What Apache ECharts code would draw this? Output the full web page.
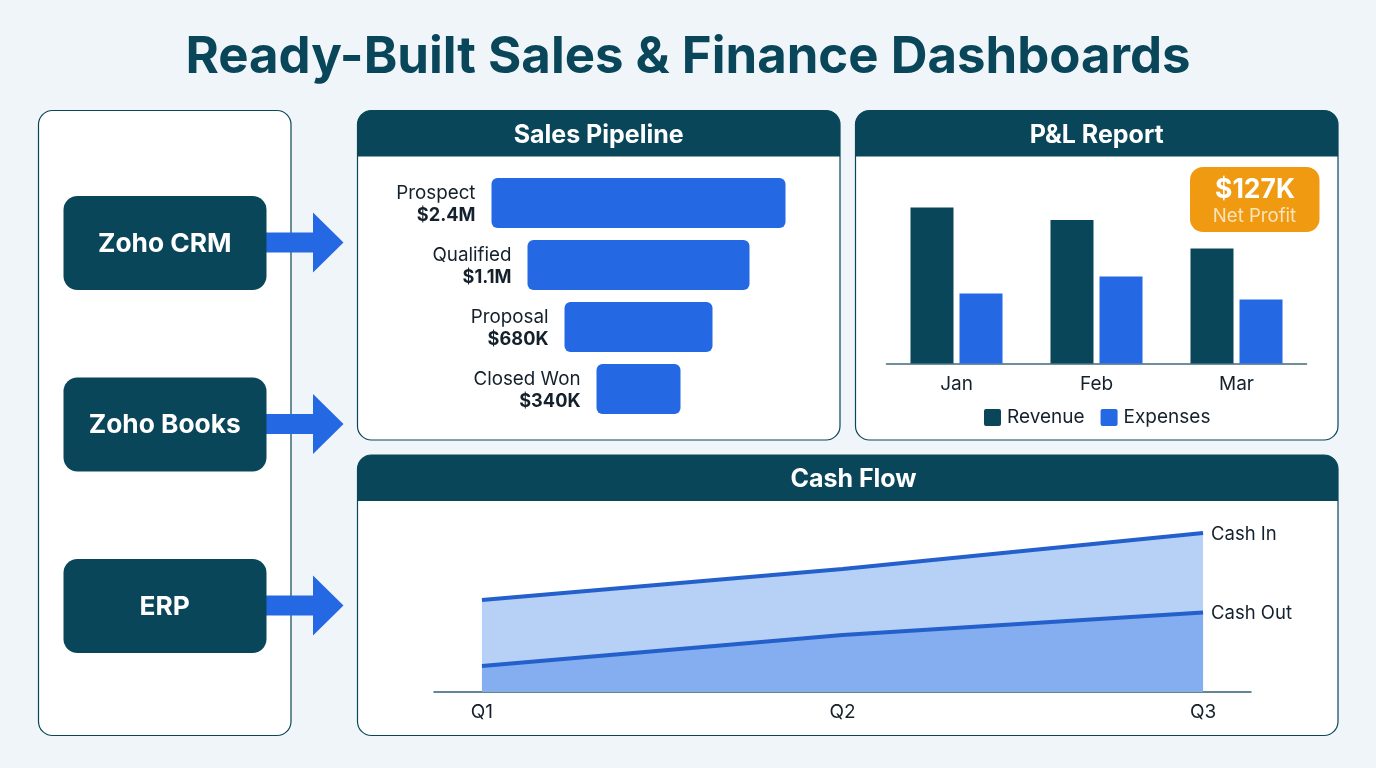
<!DOCTYPE html>
<html><head><meta charset="utf-8">
<style>html,body{margin:0;padding:0;background:#f0f5fa}#c{width:1376px;height:768px}</style>
<script src="https://cdn.jsdelivr.net/npm/echarts@6/dist/echarts.min.js"></script>
</head><body><div id="c"></div>
<script>
const titleText = 'Ready-Built Sales & Finance Dashboards';
const sources = ['Zoho CRM', 'Zoho Books', 'ERP'];
const panelTitles = ['Sales Pipeline', 'P&L Report', 'Cash Flow'];

const stages = ['Prospect', 'Qualified', 'Proposal', 'Closed Won'];
const stageAmounts = ['$2.4M', '$1.1M', '$680K', '$340K'];
const stageBarLengths = [294, 222, 148, 84];
const stageOffsets = [0, 36, 73, 105];

const months = ['Jan', 'Feb', 'Mar'];
const revenue = [156, 143.5, 115];
const expenses = [70, 87, 64];

const quarters = ['Q1', 'Q2', 'Q3'];
const cashIn = [91.5, 122.5, 158.5];
const cashOut = [25.5, 56.5, 79];

const DARK = '#0A4659', BLUE = '#2468E4', INK = '#14202B', FONT = 'Inter';
const SWATCH = 'path://M2 0H15Q17 0 17 2V15Q17 17 15 17H2Q0 17 0 15V2Q0 0 2 0Z';

const g = [];
function panel(x, y, w, h, title, titleX) {
  g.push({type:'rect', shape:{x, y, width:w, height:h, r:14}, style:{fill:'#fff', stroke:DARK, lineWidth:1.2}});
  if (title) {
    g.push({type:'rect', shape:{x, y, width:w, height:46, r:[14,14,0,0]}, style:{fill:DARK}});
    g.push({type:'text', x:titleX, y:y+24.5, style:{text:title, fill:'#fff', font:'700 25px '+FONT, align:'center', verticalAlign:'middle'}});
  }
}
panel(38.5, 110.5, 252.5, 625);
panel(357.5, 110.5, 482.5, 329.5, panelTitles[0], 598.7);
panel(855.5, 110.5, 482.5, 329.5, panelTitles[1], 1096.7);
panel(357.5, 455, 980.5, 280.5, panelTitles[2], 853.5);

[195.5, 377, 558.5].forEach((y, i) => {
  g.push({type:'polygon', shape:{points:[[266,y+37],[313,y+37],[313,y+17],[343.5,y+47],[313,y+77],[313,y+57],[266,y+57]]}, style:{fill:BLUE}});
  g.push({type:'rect', shape:{x:63.5, y:y+0.5, width:203, height:94, r:14}, style:{fill:DARK}});
  g.push({type:'text', x:164.7, y:y+48.5, style:{text:sources[i], fill:'#fff', font:'700 26.3px '+FONT, align:'center', verticalAlign:'middle'}});
});

g.push({type:'text', x:688, y:58, style:{text:titleText, fill:DARK, font:'700 50.9px '+FONT, align:'center', verticalAlign:'middle'}});
g.push({type:'rect', shape:{x:1190, y:167, width:129.5, height:65, r:13}, style:{fill:'#EF9A11'}});
g.push({type:'text', x:1255, y:190, style:{text:'$127K', fill:'#fff', font:'700 26.5px '+FONT, align:'center', verticalAlign:'middle'}});
g.push({type:'text', x:1254.5, y:216, style:{text:'Net Profit', fill:'#FBE3BD', font:'400 18.6px '+FONT, align:'center', verticalAlign:'middle'}});

const chart = echarts.init(document.getElementById('c'), null, {renderer:'canvas', width:1376, height:768});
chart.setOption({
  animation:false,
  backgroundColor:'#f0f5fa',
  textStyle:{fontFamily:FONT},
  graphic:{elements:g},
  legend:{
    left:979, top:403, itemWidth:17, itemHeight:17, itemGap:16, icon:SWATCH,
    data:['Revenue','Expenses'],
    textStyle:{fontFamily:FONT, fontSize:19, color:INK, padding:[0,0,0,1]}
  },
  grid:[
    {left:491.5, top:172, width:294, height:248},
    {left:886.5, top:163.5, width:420, height:200},
    {left:434, top:511.5, width:817, height:180}
  ],
  xAxis:[
    {gridIndex:0, type:'value', min:0, max:294, show:false},
    {gridIndex:1, type:'category', data:months, axisTick:{show:false},
     axisLine:{lineStyle:{color:'#3F6B7A', width:1.5}},
     axisLabel:{color:INK, fontFamily:FONT, fontSize:19, margin:11.5}},
    {gridIndex:2, type:'value', min:-0.133, max:2.133, splitLine:{show:false}, axisTick:{show:false},
     axisLine:{show:true, onZero:false, lineStyle:{color:'#2F5F70', width:1.5}},
     axisLabel:{customValues:[0,1,2], formatter:v=>quarters[Math.round(v)], color:INK, fontFamily:FONT, fontSize:19, margin:11}}
  ],
  yAxis:[
    {gridIndex:0, type:'category', inverse:true, data:stages, show:false},
    {gridIndex:1, type:'value', min:0, max:200, show:false},
    {gridIndex:2, type:'value', min:0, max:180, show:false}
  ],
  series:[
    {type:'bar', name:'offset', xAxisIndex:0, yAxisIndex:0, stack:'f', barWidth:50, silent:true,
     itemStyle:{color:'transparent'}, data:stageOffsets},
    {type:'bar', name:'Pipeline', xAxisIndex:0, yAxisIndex:0, stack:'f', barWidth:50,
     itemStyle:{color:BLUE, borderRadius:6},
     label:{show:true, position:'left', distance:16, align:'right', offset:[0,1.5],
       formatter:p=>`{a|${p.name}}\n{b|${stageAmounts[p.dataIndex]}}`,
       rich:{a:{fontFamily:FONT, fontSize:18.8, color:INK, lineHeight:22, align:'right'},
             b:{fontFamily:FONT, fontSize:18.2, fontWeight:700, color:INK, lineHeight:22, align:'right'}}},
     data:stageBarLengths},
    {type:'bar', name:'Revenue', xAxisIndex:1, yAxisIndex:1, barWidth:43, barGap:'14%',
     itemStyle:{color:DARK}, data:revenue},
    {type:'bar', name:'Expenses', xAxisIndex:1, yAxisIndex:1, barWidth:43, barGap:'14%',
     itemStyle:{color:BLUE}, data:expenses},
    {type:'line', name:'Cash In', xAxisIndex:2, yAxisIndex:2, symbol:'none',
     lineStyle:{color:'#2460CC', width:4}, areaStyle:{color:'#B7D0F6', opacity:1},
     endLabel:{show:true, formatter:'Cash In', distance:8, offset:[0,1], fontFamily:FONT, fontSize:18.5, color:INK},
     data:cashIn.map((v,i)=>[i,v])},
    {type:'line', name:'Cash Out', xAxisIndex:2, yAxisIndex:2, symbol:'none',
     lineStyle:{color:'#2460CC', width:4}, areaStyle:{color:'#85AEF0', opacity:1},
     endLabel:{show:true, formatter:'Cash Out', distance:8, offset:[0,1], fontFamily:FONT, fontSize:18.5, color:INK},
     data:cashOut.map((v,i)=>[i,v])}
  ]
});
</script></body></html>
